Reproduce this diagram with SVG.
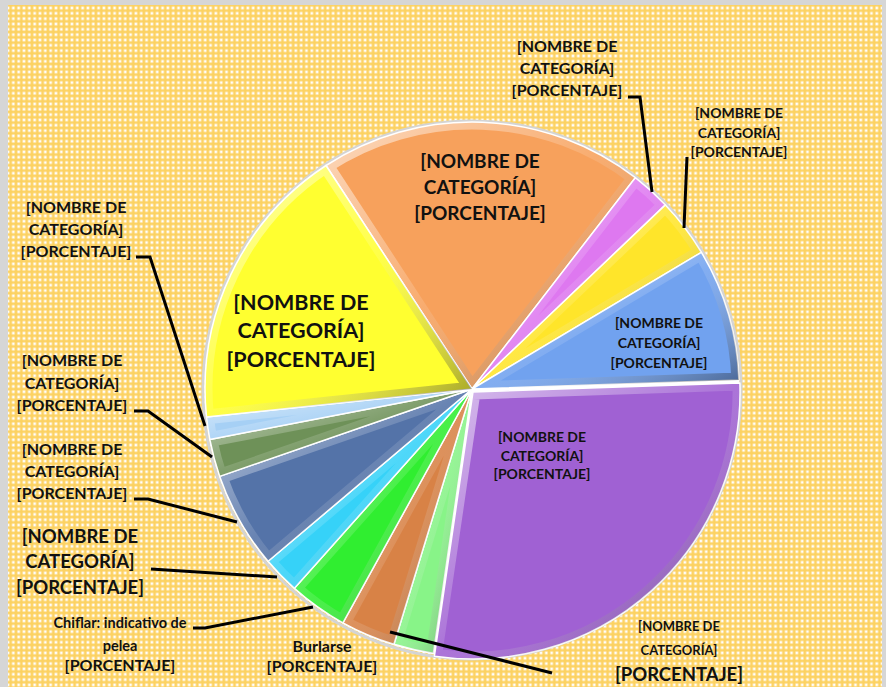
<svg xmlns="http://www.w3.org/2000/svg" width="886" height="687" viewBox="0 0 886 687">
<style>
.t{font-family:Lato,"Liberation Sans",sans-serif;font-weight:bold;fill:#111;text-anchor:middle}
.lead{fill:none;stroke:#000;stroke-width:3;stroke-linejoin:miter}
.sl{stroke:#fff;stroke-width:1.5;stroke-linejoin:round}
.bv{fill:none;stroke:url(#bev);stroke-width:15}
</style>
<defs>
<pattern id="dots" width="5.33" height="5.33" patternUnits="userSpaceOnUse">
<rect width="5.33" height="5.33" fill="#FCD262"/>
<circle cx="2.67" cy="2.67" r="2" fill="#FEE3A0"/>
<circle cx="2.67" cy="2.67" r="1.1" fill="#FFFFFF"/>
</pattern>
<linearGradient id="bev" x1="0" y1="0" x2="1" y2="1">
<stop offset="0" stop-color="#fff" stop-opacity="0.6"/>
<stop offset="0.5" stop-color="#fff" stop-opacity="0.12"/>
<stop offset="1" stop-color="#000" stop-opacity="0.4"/>
</linearGradient>
<path id="p1" d="M472,389 L326,165.5 A267,267 0 0 1 635.3,177.7 Z"/>
<path id="p2" d="M472,389 L635.3,177.7 A267,267 0 0 1 665.4,204.9 Z"/>
<path id="p3" d="M472,389 L665.4,204.9 A267,267 0 0 1 701.4,252.3 Z"/>
<path id="p4" d="M472,389 L701.4,252.3 A267,267 0 0 1 738.9,380.1 Z"/>
<path id="p5" d="M473,392 L739.9,383.1 A267,267 0 0 1 434.4,656.2 Z"/>
<path id="p6" d="M472,389 L433.4,653.2 A267,267 0 0 1 393.9,644.3 Z"/>
<path id="p7" d="M472,389 L393.9,644.3 A267,267 0 0 1 342.9,622.8 Z"/>
<path id="p8" d="M472,389 L342.9,622.8 A267,267 0 0 1 294.4,588.3 Z"/>
<path id="p9" d="M472,389 L294.4,588.3 A267,267 0 0 1 268.1,561.3 Z"/>
<path id="p10" d="M472,389 L268.1,561.3 A267,267 0 0 1 219.7,476.4 Z"/>
<path id="p11" d="M472,389 L219.7,476.4 A267,267 0 0 1 209.8,439.5 Z"/>
<path id="p12" d="M472,389 L209.8,439.5 A267,267 0 0 1 206.5,416.9 Z"/>
<path id="p13" d="M472,389 L206.5,416.9 A267,267 0 0 1 326,165.5 Z"/>
<clipPath id="c1"><use href="#p1"/></clipPath>
<clipPath id="c2"><use href="#p2"/></clipPath>
<clipPath id="c3"><use href="#p3"/></clipPath>
<clipPath id="c4"><use href="#p4"/></clipPath>
<clipPath id="c5"><use href="#p5"/></clipPath>
<clipPath id="c6"><use href="#p6"/></clipPath>
<clipPath id="c7"><use href="#p7"/></clipPath>
<clipPath id="c8"><use href="#p8"/></clipPath>
<clipPath id="c9"><use href="#p9"/></clipPath>
<clipPath id="c10"><use href="#p10"/></clipPath>
<clipPath id="c11"><use href="#p11"/></clipPath>
<clipPath id="c12"><use href="#p12"/></clipPath>
<clipPath id="c13"><use href="#p13"/></clipPath>
</defs>
<rect width="886" height="687" fill="#D6D6D6"/>
<rect x="8" y="5" width="874" height="682" fill="url(#dots)"/>
<circle cx="472" cy="390" r="269" fill="none" stroke="#D4D4D4" stroke-width="3"/>
<circle cx="472" cy="390" r="267" fill="#fff"/>

<g id="n-orange">
<use href="#p1" class="sl" fill="#F7A15C"/>
<use href="#p1" class="bv" clip-path="url(#c1)"/>
<text class="t" x="480" y="168" font-size="19">[NOMBRE DE</text>
<text class="t" x="480" y="194" font-size="19">CATEGORÍA]</text>
<text class="t" x="480" y="220" font-size="19">[PORCENTAJE]</text>
</g>
<g id="n-pink">
<use href="#p2" class="sl" fill="#DE78F0"/>
<use href="#p2" class="bv" clip-path="url(#c2)"/>
<text class="t" x="567" y="52" font-size="16">[NOMBRE DE</text>
<text class="t" x="567" y="74" font-size="16">CATEGORÍA]</text>
<text class="t" x="567" y="96" font-size="16">[PORCENTAJE]</text>
</g>
<g id="n-yellow-small">
<use href="#p3" class="sl" fill="#FFE52A"/>
<use href="#p3" class="bv" clip-path="url(#c3)"/>
<text class="t" x="739" y="118" font-size="14">[NOMBRE DE</text>
<text class="t" x="739" y="138" font-size="14">CATEGORÍA]</text>
<text class="t" x="739" y="157" font-size="14">[PORCENTAJE]</text>
</g>
<g id="n-blue">
<use href="#p4" class="sl" fill="#71A2EF"/>
<use href="#p4" class="bv" clip-path="url(#c4)"/>
<text class="t" x="659" y="328" font-size="14">[NOMBRE DE</text>
<text class="t" x="659" y="348" font-size="14">CATEGORÍA]</text>
<text class="t" x="659" y="368" font-size="14">[PORCENTAJE]</text>
</g>
<g id="n-purple">
<use href="#p5" class="sl" fill="#A061D3"/>
<use href="#p5" class="bv" clip-path="url(#c5)"/>
<text class="t" x="542" y="442" font-size="14">[NOMBRE DE</text>
<text class="t" x="542" y="461" font-size="14">CATEGORÍA]</text>
<text class="t" x="542" y="479" font-size="14">[PORCENTAJE]</text>
<text class="t" x="679" y="631" font-size="13">[NOMBRE DE</text>
<text class="t" x="679" y="655" font-size="13">CATEGORÍA]</text>
<text class="t" x="679" y="681" font-size="18.5">[PORCENTAJE]</text>
</g>
<g id="n-lightgreen">
<use href="#p6" class="sl" fill="#88F488"/>
<use href="#p6" class="bv" clip-path="url(#c6)"/>
</g>
<g id="n-brown">
<use href="#p7" class="sl" fill="#D88246"/>
<use href="#p7" class="bv" clip-path="url(#c7)"/>
<text class="t" x="322" y="652" font-size="16">Burlarse</text>
<text class="t" x="322" y="672" font-size="16">[PORCENTAJE]</text>
</g>
<g id="n-green">
<use href="#p8" class="sl" fill="#30EE30"/>
<use href="#p8" class="bv" clip-path="url(#c8)"/>
<text class="t" x="120" y="628" font-size="14.5">Chiflar: indicativo de</text>
<text class="t" x="120" y="651" font-size="14.5">pelea</text>
<text class="t" x="120" y="671" font-size="16">[PORCENTAJE]</text>
</g>
<g id="n-cyan">
<use href="#p9" class="sl" fill="#36D2F8"/>
<use href="#p9" class="bv" clip-path="url(#c9)"/>
<text class="t" x="80" y="543" font-size="18.5">[NOMBRE DE</text>
<text class="t" x="80" y="568" font-size="18.5">CATEGORÍA]</text>
<text class="t" x="80" y="594" font-size="18.5">[PORCENTAJE]</text>
</g>
<g id="n-slate">
<use href="#p10" class="sl" fill="#5473A8"/>
<use href="#p10" class="bv" clip-path="url(#c10)"/>
<text class="t" x="72" y="455" font-size="16">[NOMBRE DE</text>
<text class="t" x="72" y="477" font-size="16">CATEGORÍA]</text>
<text class="t" x="72" y="499" font-size="16">[PORCENTAJE]</text>
</g>
<g id="n-olive">
<use href="#p11" class="sl" fill="#6E9158"/>
<use href="#p11" class="bv" clip-path="url(#c11)"/>
<text class="t" x="72" y="366" font-size="16">[NOMBRE DE</text>
<text class="t" x="72" y="389" font-size="16">CATEGORÍA]</text>
<text class="t" x="72" y="411" font-size="16">[PORCENTAJE]</text>
</g>
<g id="n-lightblue">
<use href="#p12" class="sl" fill="#A6D0F5"/>
<use href="#p12" class="bv" clip-path="url(#c12)"/>
<text class="t" x="76" y="213" font-size="16">[NOMBRE DE</text>
<text class="t" x="76" y="235" font-size="16">CATEGORÍA]</text>
<text class="t" x="76" y="257" font-size="16">[PORCENTAJE]</text>
</g>
<g id="n-yellow-big">
<use href="#p13" class="sl" fill="#FFFF30"/>
<use href="#p13" class="bv" clip-path="url(#c13)"/>
<text class="t" x="301" y="310" font-size="21.5">[NOMBRE DE</text>
<text class="t" x="301" y="338" font-size="21.5">CATEGORÍA]</text>
<text class="t" x="301" y="367" font-size="21.5">[PORCENTAJE]</text>
</g>

<g id="connectors">
<path class="lead" d="M628,97 L640,97 L652,192"/>
<path class="lead" d="M687,157 L684,228"/>
<path class="lead" d="M136,257 L150,257 L205,426"/>
<path class="lead" d="M134,411 L148,411 L212,457"/>
<path class="lead" d="M134,499 L148,499 L237,522"/>
<path class="lead" d="M151,569 L277,577"/>
<path class="lead" d="M193,628 L205,628 L313,607"/>
<path class="lead" d="M390,632 L552,673"/>
</g>
</svg>
